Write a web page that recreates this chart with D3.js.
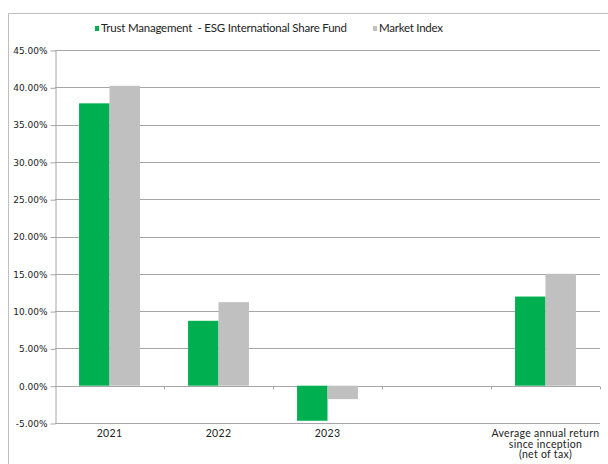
<!DOCTYPE html>
<html>
<head>
<meta charset="utf-8">
<script src="https://cdn.jsdelivr.net/npm/d3@7"></script>
<style>
  body { margin: 0; background: #fff; }
  svg { display: block; }
  .axis text { font-family: "DejaVu Sans", Verdana, sans-serif; font-size: 9px; fill: #222; }
</style>
</head>
<body>
<svg id="chart" width="608" height="464"></svg>
<script>
const categories = ['2021', '2022', '2023', '', 'Average annual return|since inception|(net of tax)'];
const fundValues = [37.85, 8.7, -4.7, null, 11.95];
const indexValues = [40.2, 11.2, -1.8, null, 15.0];
const seriesNames = ['Trust Management  - ESG International Share Fund', 'Market Index'];
const yTicks = [-5, 0, 5, 10, 15, 20, 25, 30, 35, 40, 45];

const width = 608, height = 464;
const margin = { top: 50, left: 55, right: 8, bottom: 41 };
const colors = ['#00b050', '#c0c0c0'];

const svg = d3.select('#chart');

// frame
svg.append('path')
  .attr('d', `M8.5 ${height}V13.5H${width}`)
  .attr('fill', 'none')
  .attr('stroke', '#bfbfbf');

const x = d3.scaleBand()
  .domain(d3.range(categories.length))
  .range([margin.left, width - margin.right])
  .paddingInner(0)
  .paddingOuter(0);

const y = d3.scaleLinear()
  .domain([-5, 45])
  .range([height - margin.bottom, margin.top]);

const sub = d3.scaleBand()
  .domain([0, 1])
  .range([0, x.bandwidth()])
  .paddingInner(0)
  .paddingOuter(0.79);

// grid
svg.append('g')
  .selectAll('line')
  .data(yTicks)
  .join('line')
  .attr('x1', margin.left)
  .attr('x2', width - margin.right)
  .attr('y1', d => Math.round(y(d)) + 0.5)
  .attr('y2', d => Math.round(y(d)) + 0.5)
  .attr('stroke', '#a6a6a6');

// y axis
const axisLeft = d3.axisLeft(y)
  .tickValues(yTicks)
  .tickSizeInner(5)
  .tickSizeOuter(0)
  .tickFormat(d => d.toFixed(2) + '%');
const gy = svg.append('g')
  .attr('class', 'axis')
  .attr('transform', `translate(${margin.left + 0.5},0.5)`)
  .call(axisLeft);
gy.select('.domain').attr('stroke', '#a6a6a6');
gy.selectAll('.tick line').attr('stroke', '#a6a6a6');
gy.selectAll('.tick text').attr('x', -8);

// bars
const series = [fundValues, indexValues];
series.forEach((vals, s) => {
  svg.append('g')
    .selectAll('rect')
    .data(vals.map((v, i) => ({ v, i })).filter(d => d.v !== null))
    .join('rect')
    .attr('x', d => x(d.i) + sub(s))
    .attr('width', sub.bandwidth())
    .attr('y', d => y(Math.max(0, d.v)))
    .attr('height', d => Math.abs(y(d.v) - y(0)))
    .attr('fill', colors[s]);
});

// category ticks on zero line
svg.append('g')
  .selectAll('line')
  .data(d3.range(1, categories.length + 1))
  .join('line')
  .attr('x1', d => Math.round(margin.left + d * x.bandwidth()) + 0.5)
  .attr('x2', d => Math.round(margin.left + d * x.bandwidth()) + 0.5)
  .attr('y1', Math.round(y(0)) + 0.5)
  .attr('y2', Math.round(y(0)) + 3.5)
  .attr('stroke', '#a6a6a6');

// category labels
const labels = svg.append('g')
  .attr('font-family', 'Lato, "Noto Sans", sans-serif')
  .attr('font-size', 10.5)
  .attr('letter-spacing', 0.3)
  .attr('fill', '#222')
  .attr('text-anchor', 'middle');
categories.forEach((c, i) => {
  c.split('|').forEach((line, k) => {
    labels.append('text')
      .attr('x', x(i) + x.bandwidth() / 2)
      .attr('y', 437 + k * 10.7)
      .text(line);
  });
});

// legend
const legend = svg.append('g')
  .attr('font-family', 'Lato, "Noto Sans", sans-serif')
  .attr('font-size', 11.5)
  .attr('fill', '#222');
const legendX = [95, 373];
const legendW = [246, 64];
seriesNames.forEach((name, i) => {
  legend.append('rect')
    .attr('x', legendX[i])
    .attr('y', 26)
    .attr('width', 4)
    .attr('height', 5)
    .attr('fill', colors[i]);
  legend.append('text')
    .attr('x', legendX[i] + 6)
    .attr('y', 32)
    .attr('xml:space', 'preserve')
    .attr('textLength', legendW[i])
    .attr('lengthAdjust', 'spacing')
    .text(name);
});
</script>
</body>
</html>
